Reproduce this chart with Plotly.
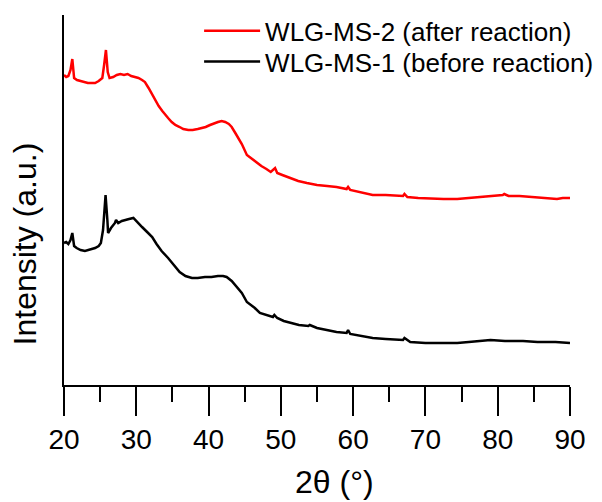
import plotly.graph_objects as go

# Red: WLG-MS-2 (after reaction)
red_x = [20.0, 20.3, 20.6, 20.9, 21.15, 21.4, 21.8, 22.3, 22.8, 23.3, 23.8, 24.3, 24.8, 25.3, 25.55, 25.8, 26.05, 26.3, 26.8, 27.3, 27.8, 28.3, 28.8, 29.3, 29.8, 30.3, 30.8, 31.2, 31.7, 32.2, 32.6, 33.1, 33.6, 34.0, 34.4, 34.9, 35.4, 36.0, 36.5, 37.2, 37.8, 38.5, 39.0, 39.6, 40.2, 40.8, 41.3, 41.8, 42.3, 42.8, 43.2, 43.7, 44.1, 44.6, 45.3, 46.0, 46.6, 47.3, 48.0, 48.6, 49.2, 49.5, 50.2, 51.3, 52.4, 53.6, 55.0, 56.4, 57.7, 59.1, 59.3, 59.6, 61.0, 62.7, 64.5, 66.0, 66.9, 67.1, 67.5, 69.0, 71.0, 72.5, 74.4, 76.0, 77.5, 79.0, 80.7, 80.9, 81.5, 83.0, 84.4, 86.0, 88.2, 89.0, 90.0]
red_y = [325, 323, 324, 330, 341, 322, 320, 319, 318, 317, 317, 317, 319, 322, 335, 350, 328, 322, 323, 325, 326, 325, 326, 324, 323, 322, 320, 318, 312, 305, 300, 294, 289, 285, 282, 278, 275, 273, 271, 270, 270, 271, 272, 273, 275, 277, 278, 279, 278, 276, 273, 267, 262, 256, 245, 241, 238, 234, 231, 228, 232, 227, 225, 222, 219, 217, 215, 214, 213, 211, 213, 210, 208, 205, 205, 204, 204, 206, 203, 202, 201, 201, 201, 202, 203, 204, 205, 206, 204, 204, 203, 202, 201, 202, 202]

# Black: WLG-MS-1 (before reaction)
blk_x = [20.0, 20.3, 20.6, 20.9, 21.15, 21.4, 21.75, 22.3, 22.9, 23.5, 24.3, 24.8, 25.1, 25.4, 25.75, 26.0, 26.1, 26.5, 27.05, 27.2, 27.5, 28.0, 28.4, 29.0, 29.6, 30.2, 30.8, 31.5, 32.2, 32.8, 33.5, 34.4, 35.2, 36.0, 36.8, 37.7, 38.5, 39.5, 40.4, 41.3, 42.0, 42.5, 43.2, 43.9, 44.6, 45.3, 46.4, 47.1, 48.0, 48.9, 49.1, 49.5, 50.4, 51.3, 52.5, 53.8, 54.0, 55.0, 56.4, 57.7, 59.1, 59.3, 59.6, 61.0, 62.7, 64.5, 66.0, 66.9, 67.1, 67.9, 70.0, 71.9, 74.4, 76.0, 77.1, 79.0, 81.0, 83.5, 85.5, 88.0, 90.0]
blk_y = [157, 158, 156, 160, 167, 154, 152, 150, 149, 150, 152, 154, 157, 170, 205, 180, 167, 172, 177, 180, 177, 179, 180, 181, 182, 178, 173, 168, 163, 156, 149, 142, 135, 128, 124, 122, 122, 123, 123, 124, 124, 123, 119, 113, 107, 98, 92, 87, 85, 83, 85, 82, 79, 77, 75, 74, 75, 72, 70, 68, 67, 70, 66, 64, 62, 61, 60, 60, 62, 58, 57, 57, 57, 58, 59, 60, 59, 59, 58, 58, 57]

x_ticks = [20, 30, 40, 50, 60, 70, 80, 90]
x_title = "2θ (°)"
y_title = "Intensity (a.u.)"

fig = go.Figure()
fig.add_trace(go.Scatter(x=red_x, y=red_y, mode="lines", name="WLG-MS-2 (after reaction)",
                         line=dict(color="#ff0000", width=2.5), legend="legend"))
fig.add_trace(go.Scatter(x=blk_x, y=blk_y, mode="lines", name="WLG-MS-1 (before reaction)",
                         line=dict(color="#000000", width=2.5), legend="legend2"))

font_family = "Liberation Sans, Arial, sans-serif"
leg_common = dict(xanchor="left", yanchor="middle", font=dict(size=26),
                  bgcolor="rgba(0,0,0,0)", itemwidth=56, tracegroupgap=0)
fig.update_layout(
    width=602, height=502,
    margin=dict(l=64, r=32, t=15, b=117, autoexpand=False),
    paper_bgcolor="white", plot_bgcolor="white",
    font=dict(family=font_family, color="black"),
    showlegend=True,
    legend=dict(x=0.267, y=0.957, **leg_common),
    legend2=dict(x=0.267, y=0.874, **leg_common),
    annotations=[
        dict(text=x_title, xref="paper", yref="paper", x=0.534, y=-0.262,
             xanchor="center", yanchor="middle", showarrow=False, font=dict(size=32)),
        dict(text=y_title, xref="paper", yref="paper", x=-0.077, y=0.38,
             xanchor="center", yanchor="middle", showarrow=False, textangle=-90,
             font=dict(size=32)),
    ],
)
fig.update_xaxes(
    range=[20, 90], tickvals=x_ticks, showline=True, linecolor="black", linewidth=1.5,
    ticks="outside", ticklen=29, tickwidth=1.5, tickcolor="black",
    minor=dict(dtick=5, ticks="outside", ticklen=15, tickwidth=1.5, tickcolor="black"),
    tickfont=dict(size=28), showgrid=False, zeroline=False,
)
fig.update_yaxes(
    range=[15, 385], showline=True, linecolor="black", linewidth=1.5,
    showticklabels=False, ticks="", showgrid=False, zeroline=False,
)
fig.write_html("out.html")
